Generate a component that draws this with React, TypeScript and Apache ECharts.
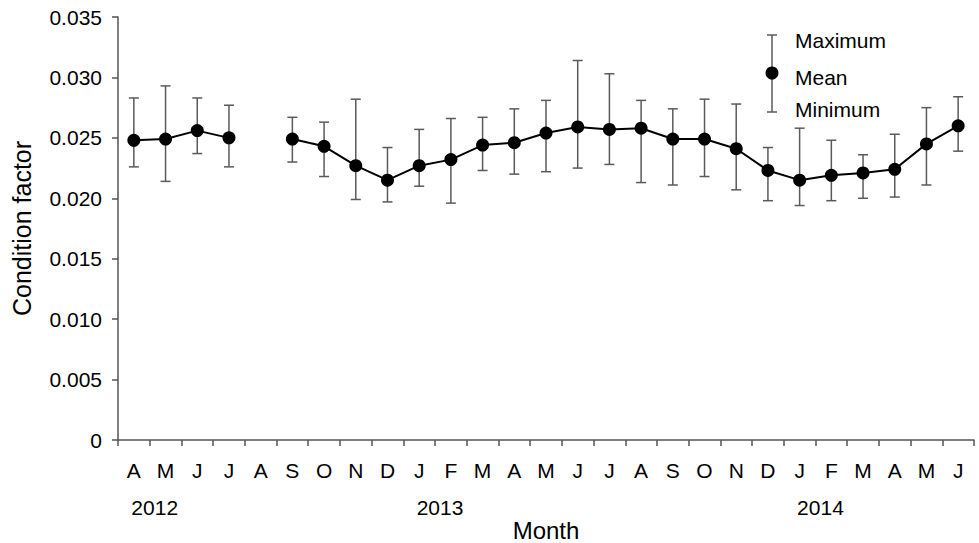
import React, { useEffect, useRef } from "react";
import * as echarts from "echarts";

const months = ["A", "M", "J", "J", "A", "S", "O", "N", "D", "J", "F", "M", "A", "M", "J", "J", "A", "S", "O", "N", "D", "J", "F", "M", "A", "M", "J"];
const meanValues = [0.0248, 0.0249, 0.0256, 0.0250, null, 0.0249, 0.0243, 0.0227, 0.0215, 0.0227, 0.0232, 0.0244, 0.0246, 0.0254, 0.0259, 0.0257, 0.0258, 0.0249, 0.0249, 0.0241, 0.0223, 0.0215, 0.0219, 0.0221, 0.0224, 0.0245, 0.0260];
const maxValues = [0.0283, 0.0293, 0.0283, 0.0277, null, 0.0267, 0.0263, 0.0282, 0.0242, 0.0257, 0.0266, 0.0267, 0.0274, 0.0281, 0.0314, 0.0303, 0.0281, 0.0274, 0.0282, 0.0278, 0.0242, 0.0258, 0.0248, 0.0236, 0.0253, 0.0275, 0.0284];
const minValues = [0.0226, 0.0214, 0.0237, 0.0226, null, 0.0230, 0.0218, 0.0199, 0.0197, 0.0210, 0.0196, 0.0223, 0.0220, 0.0222, 0.0225, 0.0228, 0.0213, 0.0211, 0.0218, 0.0207, 0.0198, 0.0194, 0.0198, 0.0200, 0.0201, 0.0211, 0.0239];
const yearLabels = ["2012", "2013", "2014"];
const yearStartIndex = [0, 9, 21];
const legendLabels = ["Maximum", "Mean", "Minimum"];

const FONT = "'Liberation Sans', Arial, sans-serif";
const AXIS_COLOR = "#555";
const BAR_COLOR = "#5a5a5a";

export default function App() {
  const ref = useRef<HTMLDivElement>(null);

  useEffect(() => {
    if (!ref.current) return;
    const chart = echarts.init(ref.current, null, { renderer: "svg" });

    const errData = months
      .map((_, i) => [i, minValues[i], maxValues[i]])
      .filter((r) => r[1] != null && r[2] != null);

    chart.setOption({
      animation: false,
      textStyle: { fontFamily: FONT },
      grid: { left: 118, right: 5, top: 17, bottom: 103, containLabel: false, outerBoundsMode: "none" },
      xAxis: {
        type: "category",
        data: months,
        boundaryGap: true,
        name: "Month",
        nameLocation: "middle",
        nameGap: 78,
        nameTextStyle: { fontSize: 24, color: "#000", fontFamily: FONT },
        axisLine: { lineStyle: { color: AXIS_COLOR, width: 1.5 } },
        axisTick: { show: true, length: 6, lineStyle: { color: AXIS_COLOR, width: 1.5 }, alignWithLabel: false },
        axisLabel: { interval: 0, fontSize: 21, color: "#000", margin: 20, fontFamily: FONT },
        splitLine: { show: false },
      },
      yAxis: {
        type: "value",
        min: 0,
        max: 0.035,
        interval: 0.005,
        name: "Condition factor",
        nameLocation: "middle",
        nameGap: 84,
        nameTextStyle: { fontSize: 25, color: "#000", fontFamily: FONT },
        axisLine: { show: true, lineStyle: { color: AXIS_COLOR, width: 1.5 } },
        axisTick: { show: true, length: 6, lineStyle: { color: AXIS_COLOR, width: 1.5 } },
        axisLabel: {
          fontSize: 21,
          color: "#000",
          margin: 16,
          fontFamily: FONT,
          formatter: (v: number) => (v === 0 ? "0" : v.toFixed(3)),
        },
        splitLine: { show: false },
      },
      series: [
        {
          type: "custom",
          z: 1,
          data: errData,
          encode: { x: 0, y: [1, 2] },
          renderItem: (_params: any, api: any) => {
            const x = api.value(0);
            const pLo = api.coord([x, api.value(1)]);
            const pHi = api.coord([x, api.value(2)]);
            const half = 5;
            const style = { stroke: BAR_COLOR, lineWidth: 1.5 };
            return {
              type: "group",
              children: [
                { type: "line", shape: { x1: pLo[0], y1: pLo[1], x2: pHi[0], y2: pHi[1] }, style },
                { type: "line", shape: { x1: pHi[0] - half, y1: pHi[1], x2: pHi[0] + half, y2: pHi[1] }, style },
                { type: "line", shape: { x1: pLo[0] - half, y1: pLo[1], x2: pLo[0] + half, y2: pLo[1] }, style },
              ],
            };
          },
        },
        {
          type: "line",
          z: 3,
          data: meanValues,
          connectNulls: false,
          symbol: "circle",
          symbolSize: 13,
          itemStyle: { color: "#000" },
          lineStyle: { color: "#000", width: 2 },
        },
      ],
    });

    const yearGraphics = yearLabels.map((label, k) => {
      const i = yearStartIndex[k];
      const a = chart.convertToPixel({ xAxisIndex: 0 }, i) as number;
      const b = chart.convertToPixel({ xAxisIndex: 0 }, i + 1) as number;
      return {
        type: "text",
        x: (a + b) / 2 + 5,
        y: 507,
        style: {
          text: label,
          fontSize: 21,
          fontFamily: FONT,
          fill: "#000",
          align: "center",
          verticalAlign: "middle",
        },
      };
    });

    const legendX = 772;
    const legendTop = 35;
    const legendBottom = 112;
    const legendMid = 73;
    const legendStyle = { stroke: BAR_COLOR, lineWidth: 1.5 };
    const legendTextY = [40, 77, 109];

    chart.setOption({
      graphic: [
        ...yearGraphics,
        { type: "line", shape: { x1: legendX, y1: legendTop, x2: legendX, y2: legendBottom }, style: legendStyle },
        { type: "line", shape: { x1: legendX - 5, y1: legendTop, x2: legendX + 5, y2: legendTop }, style: legendStyle },
        { type: "line", shape: { x1: legendX - 5, y1: legendBottom, x2: legendX + 5, y2: legendBottom }, style: legendStyle },
        { type: "circle", shape: { cx: legendX, cy: legendMid, r: 6.5 }, style: { fill: "#000" } },
        ...legendLabels.map((t, k) => ({
          type: "text",
          x: 795,
          y: legendTextY[k],
          style: { text: t, fontSize: 21, fontFamily: FONT, fill: "#000", align: "left", verticalAlign: "middle" },
        })),
      ],
    });

    return () => chart.dispose();
  }, []);

  return (
    <div
      ref={ref}
      style={{ position: "fixed", left: 0, top: 0, width: 979, height: 543, background: "#fff" }}
    />
  );
}
